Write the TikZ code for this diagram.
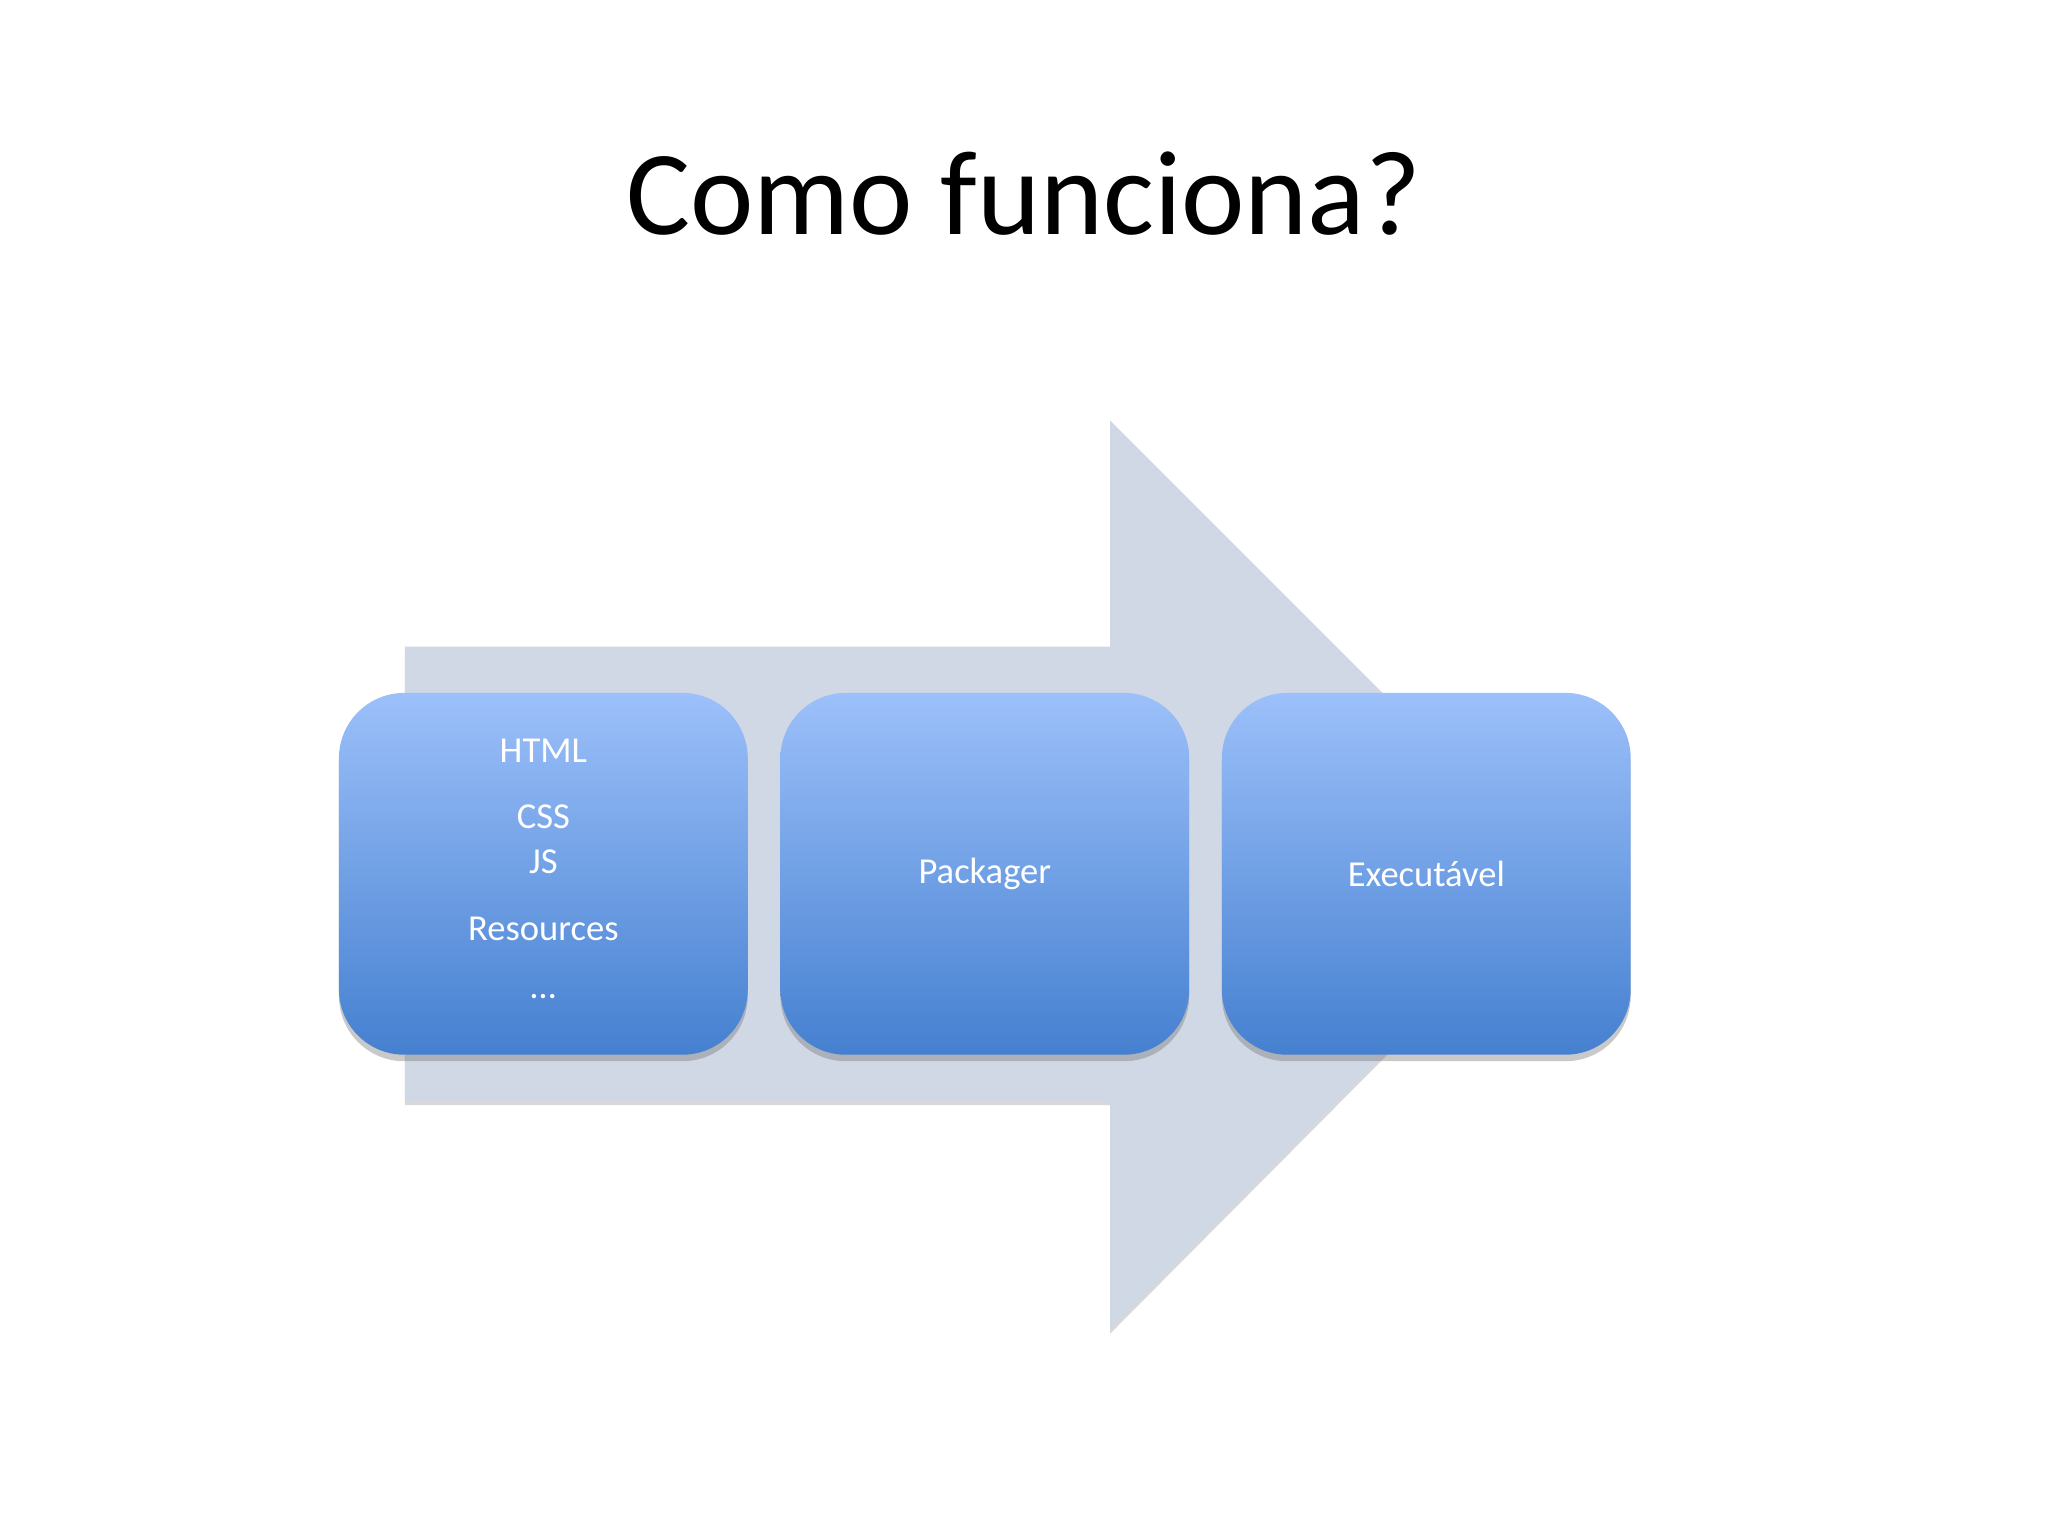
\documentclass[tikz,border=0pt]{standalone}
\usepackage{fontspec}
\setmainfont{Carlito}
\usetikzlibrary{shadows}
\definecolor{arrowc}{HTML}{D0D8E6}
\definecolor{topc}{HTML}{9CC0FA}
\definecolor{botc}{HTML}{4580D0}
\tikzset{
  blk/.style={rounded corners=50pt, top color=topc, bottom color=botc, draw=none,
    drop shadow={shadow xshift=0pt, shadow yshift=-5pt, opacity=0.35, fill=black!60},
    minimum width=313pt, minimum height=277pt, text=white, font=\fontsize{28pt}{30pt}\selectfont, inner sep=0pt},
  lbl/.style={text=white, font=\fontsize{28pt}{30pt}\selectfont}
}
\begin{document}
\begin{tikzpicture}[x=1pt,y=-1pt]
\useasboundingbox (0,0) rectangle (1568,1176);
\fill[white] (0,0) rectangle (1568,1176);
\node[font=\fontsize{92pt}{96pt}\selectfont] (title) at (784,148) {Como funciona?};
\fill[arrowc, drop shadow={shadow xshift=0pt, shadow yshift=-3pt, opacity=0.3}] (310,495) -- (850,495) -- (850,322) -- (1197,669) -- (850,1018) -- (850,843) -- (310,843) -- cycle;
\node[blk] (a) at (416,669) {};
\node[blk] (b) at (754,669) {Packager};
\node[blk] (c) at (1092,669) {Executável};
\node[lbl] (t1) at (416,575) {HTML};
\node[lbl] (t2) at (416,625) {CSS};
\node[lbl] (t3) at (416,660) {JS};
\node[lbl] (t4) at (416,711) {Resources};
\node[lbl] (t5) at (416,763) {\dots};
\end{tikzpicture}
\end{document}
